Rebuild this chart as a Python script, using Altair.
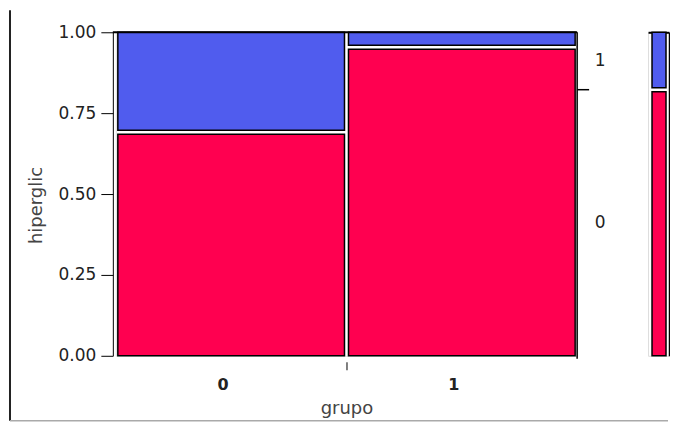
import altair as alt
import pandas as pd

# ---- data ----
grupo = ["0", "1"]
grupo_prop = [0.5, 0.5]          # width share of each grupo
hiperglic = ["0", "1"]
prop_h1 = [0.309, 0.046]         # share of hiperglic = 1 inside each grupo
colors = ["#ff0050", "#505cee"]  # hiperglic 0, hiperglic 1

# ---- build cells ----
rows = []
start = 0.0
for g, w, p in zip(grupo, grupo_prop, prop_h1):
    end = start + w
    b = 1 - p
    rows.append(dict(grupo=g, hiperglic="0", x0=start, x1=end, y0=0.0, y1=b))
    rows.append(dict(grupo=g, hiperglic="1", x0=start, x1=end, y0=b, y1=1.0))
    start = end
cells = pd.DataFrame(rows)

glabels = pd.DataFrame({
    "grupo": grupo,
    "xm": [r["x0"] * 0.5 + r["x1"] * 0.5 for r in rows[::2]],
})
boundaries = list(pd.Series(grupo_prop).cumsum()[:-1])

overall_h1 = sum(w * p for w, p in zip(grupo_prop, prop_h1))
mb = 1 - overall_h1
marg = pd.DataFrame({
    "total": ["Total", "Total"],
    "hiperglic": hiperglic,
    "y0": [0.0, mb],
    "y1": [mb, 1.0],
})
marg["ym"] = (marg["y0"] + marg["y1"]) / 2
frame = pd.DataFrame({"x0": [0.0], "x1": [1.0], "y0": [0.0], "y1": [1.0], "b": [mb]})

FONT = "DejaVu Sans"
W, H = 462, 324

color = alt.Color("hiperglic:N", scale=alt.Scale(domain=hiperglic, range=colors), legend=None)
xs = alt.Scale(domain=[0, 1], nice=False, zero=False)
ys = alt.Scale(domain=[0, 1], nice=False, zero=False)

xaxis = alt.Axis(values=boundaries, labels=False, domain=False, ticks=True, tickSize=8,
                 offset=6, tickColor="black", grid=False, title="grupo",
                 titleFont=FONT, titleFontSize=18, titleFontWeight="normal",
                 titleColor="#444444", titlePadding=29)
yaxis = alt.Axis(values=[0, 0.25, 0.5, 0.75, 1], format=".2f", tickSize=12, offset=3,
                 labelPadding=5, grid=False, domainColor="black", tickColor="black",
                 labelFont=FONT, labelFontSize=17, labelColor="#222222",
                 title="hiperglic", titleFont=FONT, titleFontSize=18,
                 titleFontWeight="normal", titleColor="#444444",
                 titleX=-71, titleY=173, titleAlign="center", titleBaseline="alphabetic",
                 titleAngle=270)

base = alt.Chart(cells).encode(
    x=alt.X("x0:Q", scale=xs, axis=xaxis),
    x2="x1:Q",
    y=alt.Y("y0:Q", scale=ys, axis=yaxis),
    y2="y1:Q",
    color=color,
)
red = base.transform_filter("datum.hiperglic == '0'").mark_rect(
    stroke="black", strokeWidth=1.5, xOffset=2, x2Offset=-2, y2Offset=2)
blue = base.transform_filter("datum.hiperglic == '1'").mark_rect(
    stroke="black", strokeWidth=1.5, xOffset=2, x2Offset=-2, yOffset=-2)

fr = alt.Chart(frame)
top_line = fr.mark_rule(color="black", strokeWidth=2, xOffset=-3).encode(
    x=alt.X("x0:Q", scale=xs, axis=xaxis), x2="x1:Q", y=alt.Y("y1:Q", scale=ys, axis=yaxis))
right_line = fr.mark_rule(color="black", strokeWidth=1.5, yOffset=3).encode(
    x=alt.X("x1:Q", scale=xs, axis=xaxis), y=alt.Y("y0:Q", scale=ys, axis=yaxis), y2="y1:Q")
right_tick = fr.mark_rule(color="black", strokeWidth=1.5, x2Offset=12).encode(
    x=alt.X("x1:Q", scale=xs, axis=xaxis), x2="x1:Q", y=alt.Y("b:Q", scale=ys, axis=yaxis))

right_labels = alt.Chart(marg).mark_text(font=FONT, fontSize=17, color="#222222", dx=23).encode(
    x=alt.datum(1, scale=xs, axis=xaxis), y=alt.Y("ym:Q", scale=ys, axis=yaxis),
    text="hiperglic:N")
x_labels = alt.Chart(glabels).mark_text(font=FONT, fontSize=16, fontWeight="bold",
                                        color="#222222", dy=29, dx=-8).encode(
    x=alt.X("xm:Q", scale=xs, axis=xaxis), y=alt.datum(0, scale=ys, axis=yaxis),
    text="grupo:N")

win = alt.Chart(frame)
left_frame = win.mark_rule(color="#222222", strokeWidth=2).encode(
    x=alt.value(-106), y=alt.value(-22), y2=alt.value(389))
bottom_frame = win.mark_rule(color="#aaaaaa", strokeWidth=1.5).encode(
    x=alt.value(-106), x2=alt.value(553), y=alt.value(389))

main = alt.layer(red, blue, top_line, right_line, right_tick, right_labels, x_labels,
                 left_frame, bottom_frame).properties(width=W, height=H)

mbase = alt.Chart(marg).encode(
    x=alt.X("total:N", scale=alt.Scale(paddingInner=0, paddingOuter=0.25, align=0.571),
            axis=alt.Axis(orient="top", labels=False, ticks=False, title=None,
                          domainColor="black", domainWidth=2)),
    y=alt.Y("y0:Q", scale=ys, axis=alt.Axis(orient="right", labels=False, ticks=False,
                                           title=None, grid=False, domainColor="black",
                                           domainWidth=1.5)),
    y2="y1:Q",
    color=color,
)
mred = mbase.transform_filter("datum.hiperglic == '0'").mark_bar(
    stroke="black", strokeWidth=1.5, y2Offset=2)
mblue = mbase.transform_filter("datum.hiperglic == '1'").mark_bar(
    stroke="black", strokeWidth=1.5, yOffset=-2)
marginal = alt.layer(mred, mblue).properties(width=21, height=H)

chart = alt.hconcat(main, marginal, spacing=71, bounds="flush").properties(
    padding=0
).configure_view(stroke=None).configure(font=FONT)

chart.save("out.html", embed_options={"renderer": "svg", "actions": False})
